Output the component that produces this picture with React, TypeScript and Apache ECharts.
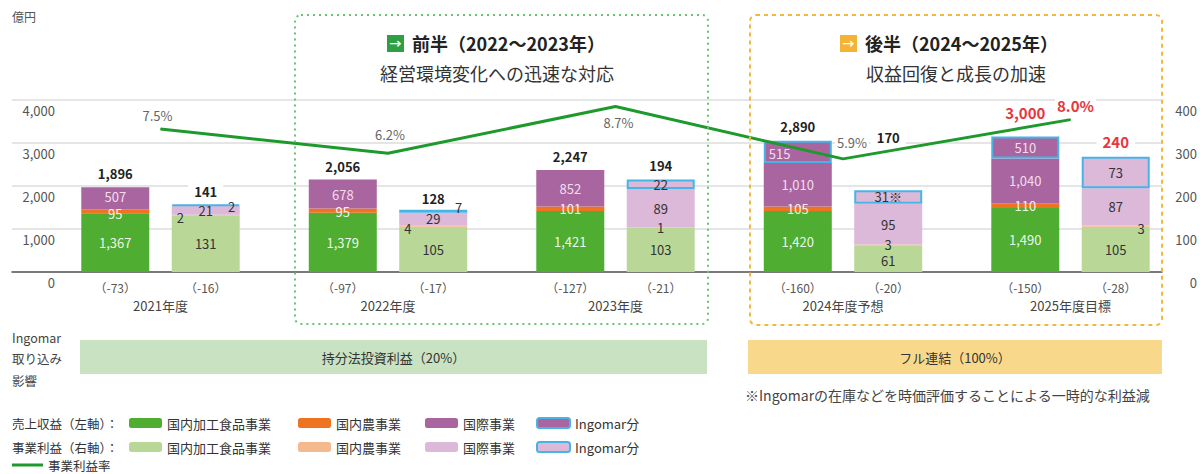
import React, { useEffect, useRef } from "react";
import * as echarts from "echarts";

// ---------- data ----------
const years = ["2021年度", "2022年度", "2023年度", "2024年度予想", "2025年度目標"];
// 売上収益（左軸, 億円）
const revDomesticFood = [1367, 1379, 1421, 1420, 1490];
const revDomesticAgri = [95, 95, 101, 105, 110];
const revInternational = [507, 678, 852, 1010, 1040];
const revIngomar: (number | null)[] = [null, null, null, 515, 510];
const revTotals = [1896, 2056, 2247, 2890, 3000];
const revAdjust = [-73, -97, -127, -160, -150];
// 事業利益（右軸, 億円）
const profDomesticFood = [131, 105, 103, 61, 105];
const profDomesticAgri = [2, 4, 1, 3, 3];
const profInternational = [21, 29, 89, 95, 87];
const profIngomar = [2, 7, 22, 31, 73];
const profTotals = [141, 128, 194, 170, 240];
const profAdjust = [-16, -17, -21, -20, -28];
// 事業利益率（%）
const profitMargin = [7.5, 6.2, 8.7, 5.9, 8.0];
// axes
const leftAxis = { min: 0, max: 4000, interval: 1000 };
const rightAxis = { min: 0, max: 400, interval: 100 };
const marginAxis = { min: -0.15, max: 9.05 };

const FONT = '"Noto Sans CJK JP", "Noto Sans", sans-serif';
const C = {
  food: "#4fad32",
  agri: "#ee7422",
  intl: "#a8659f",
  foodL: "#b9d898",
  agriL: "#f5b98e",
  intlL: "#dcb8d9",
  border: "#47b4e6",
  line: "#1e9a2c",
  red: "#e8363c",
};

const fmt = (v: number) => v.toLocaleString("en-US");

type LabelOverride = Record<string, any> | null;

function seg(
  name: string,
  stack: string,
  yAxisIndex: number,
  color: string,
  values: (number | null)[],
  labelColor: string,
  overrides: LabelOverride[] = [],
  bordered = false,
  suffix: string[] = []
) {
  return {
    type: "bar",
    name,
    stack,
    xAxisIndex: 1,
    yAxisIndex,
    barWidth: 68,
    barGap: "33%",
    itemStyle: bordered
      ? { color, borderColor: C.border, borderWidth: 2 }
      : { color },
    label: {
      show: true,
      position: "inside",
      color: labelColor,
      fontSize: 13,
      fontFamily: FONT,
      formatter: (p: any) => fmt(p.value) + (suffix[p.dataIndex] || ""),
    },
    data: values.map((v, i) =>
      v == null ? "-" : overrides[i] ? { value: v, label: overrides[i] } : v
    ),
  };
}

function totalSeries(stack: string, yAxisIndex: number, totals: number[], per: LabelOverride[]) {
  return {
    type: "bar",
    name: stack + "_total",
    stack,
    xAxisIndex: 1,
    yAxisIndex,
    barWidth: 68,
    barGap: "33%",
    silent: true,
    itemStyle: { color: "rgba(0,0,0,0)" },
    label: {
      show: true,
      position: "top",
      distance: 5,
      color: "#222",
      fontWeight: "bold",
      fontSize: 13,
      fontFamily: FONT,
      backgroundColor: "#fff",
      padding: [2, 6],
      formatter: (p: any) => fmt(totals[p.dataIndex]),
    },
    data: totals.map((_, i) => (per[i] ? { value: 0, label: per[i] } : 0)),
    z: 4,
  };
}

export default function App() {
  const ref = useRef<HTMLDivElement>(null);

  useEffect(() => {
    document.body.style.margin = "0";
    if (!ref.current) return;
    const chart = echarts.init(ref.current, null, { renderer: "svg" });

    const adjText = (v: number) => `（${v}）`;

    const series: any[] = [
      seg("売上収益:国内加工食品事業", "rev", 2, C.food, revDomesticFood, "rgba(255,255,255,0.92)"),
      seg("売上収益:国内農事業", "rev", 2, C.agri, revDomesticAgri, "rgba(255,255,255,0.92)", [
        { offset: [0, 2] },
        { offset: [0, 1] },
        null,
        null,
        null,
      ]),
      seg("売上収益:国際事業", "rev", 2, C.intl, revInternational, "rgba(255,235,250,0.9)", [
        { offset: [0, -2] },
        null,
        null,
        null,
        null,
      ]),
      seg(
        "売上収益:Ingomar分",
        "rev",
        2,
        C.intl,
        revIngomar,
        "rgba(255,235,250,0.9)",
        [null, null, null, { position: "insideLeft", offset: [0, 2] }, null],
        true
      ),
      totalSeries("rev", 2, revTotals, [
        { distance: 5 },
        { distance: 4 },
        { distance: 4.5 },
        { distance: 5.5 },
        { distance: 15, color: C.red, fontSize: 15 },
      ]),
      seg("事業利益:国内加工食品事業", "prof", 3, C.foodL, profDomesticFood, "#333", [
        null,
        null,
        null,
        { offset: [0, 2] },
        null,
      ]),
      seg("事業利益:国内農事業", "prof", 3, C.agriL, profDomesticAgri, "#333", [
        { position: "insideLeft", offset: [0, 2] },
        { position: "insideLeft", offset: [0, 3] },
        null,
        { offset: [0, -1] },
        { position: "insideRight", offset: [0, 2] },
      ]),
      seg("事業利益:国際事業", "prof", 3, C.intlL, profInternational, "#333"),
      seg(
        "事業利益:Ingomar分",
        "prof",
        3,
        C.intlL,
        profIngomar,
        "#333",
        [
          { position: "insideRight", offset: [0, 1] },
          { position: "insideRight", offset: [0, -4] },
          null,
          null,
          null,
        ],
        true,
        ["", "", "", "※", ""]
      ),
      totalSeries("prof", 3, profTotals, [
        { distance: 4.5 },
        { distance: 2.5 },
        { distance: 6 },
        { distance: 44 },
        { distance: 6, color: C.red, fontSize: 15 },
      ]),
      {
        type: "line",
        name: "事業利益:事業利益率",
        xAxisIndex: 1,
        yAxisIndex: 4,
        symbol: "circle",
        symbolSize: 1,
        showSymbol: true,
        lineStyle: { color: C.line, width: 3 },
        itemStyle: { color: C.line },
        z: 6,
        label: {
          show: true,
          position: "top",
          color: "#666",
          fontSize: 13,
          fontFamily: FONT,
          backgroundColor: "#fff",
          padding: [1, 2],
          formatter: (p: any) => p.value.toFixed(1) + "%",
        },
        data: profitMargin.map((v, i) => {
          const per: any[] = [
            { distance: 5, offset: [-3, 0] },
            { distance: 11, offset: [2, 0] },
            { position: "bottom", distance: 8, offset: [3, 0] },
            { distance: 8, offset: [9, 0] },
            { distance: 5, offset: [5, 0], color: C.red, fontWeight: "bold", fontSize: 15 },
          ];
          return { value: v, label: per[i] };
        }),
      },
    ];

    const legendCommon = {
      orient: "horizontal",
      padding: 0,
      itemWidth: 33,
      itemHeight: 10,
      itemGap: 10,
      selectedMode: false,
      textStyle: { fontSize: 13, lineHeight: 14, color: "#333", fontFamily: FONT },
      formatter: (name: string) => name.split(":")[1],
    };
    const colWidths = [121, 79, 63, undefined];
    const segNames = ["国内加工食品事業", "国内農事業", "国際事業", "Ingomar分"];

    const txt = (text: string, x: number, y: number, extra: any = {}) => ({
      type: "text",
      x,
      y,
      silent: true,
      style: {
        text,
        fill: "#444",
        fontSize: 13,
        fontFamily: FONT,
        textVerticalAlign: "middle",
        ...extra,
      },
    });

    const option: any = {
      animation: false,
      textStyle: { fontFamily: FONT },
      grid: [
        { left: 12, right: 38, top: 100, height: 172 },
        { left: 46.75, right: 15.75, top: 100, height: 172 },
      ],
      xAxis: [
        {
          type: "value",
          gridIndex: 0,
          min: 0,
          max: 1,
          axisLine: { show: true, onZero: false, lineStyle: { color: "#555", width: 1.5 } },
          axisTick: { show: false },
          axisLabel: { show: false },
          splitLine: { show: false },
        },
        {
          type: "category",
          gridIndex: 1,
          data: years,
          axisLine: { show: false },
          axisTick: { show: false },
          axisLabel: {
            margin: 6,
            interval: 0,
            formatter: (value: string, index: number) =>
              `{a|${adjText(revAdjust[index])}}{g|}{b|${adjText(profAdjust[index])}}\n{y|${value}}`,
            rich: {
              a: { width: 68, align: "center", fontSize: 12, color: "#555", lineHeight: 18, fontFamily: FONT },
              g: { width: 22.5 },
              b: { width: 68, align: "center", fontSize: 12, color: "#555", lineHeight: 18, fontFamily: FONT },
              y: { fontSize: 13, color: "#444", lineHeight: 18, fontFamily: FONT },
            },
          },
        },
      ],
      yAxis: [
        {
          type: "value",
          gridIndex: 0,
          position: "left",
          ...leftAxis,
          name: "億円",
          nameLocation: "end",
          nameGap: 78,
          nameTextStyle: { align: "left", color: "#555", fontSize: 12, fontFamily: FONT },
          axisLine: { show: false },
          axisTick: { show: false },
          axisLabel: {
            inside: true,
            align: "right",
            margin: 43,
            verticalAlign: "top",
            padding: [4, 0, 0, 0],
            color: "#555",
            fontSize: 13,
            fontFamily: FONT,
            formatter: (v: number) => fmt(v),
          },
          splitLine: { show: true, lineStyle: { color: "#dcdcdc", width: 1.5 } },
        },
        {
          type: "value",
          gridIndex: 0,
          position: "right",
          ...rightAxis,
          axisLine: { show: false },
          axisTick: { show: false },
          axisLabel: {
            align: "right",
            margin: 35,
            verticalAlign: "top",
            padding: [4, 0, 0, 0],
            color: "#555",
            fontSize: 13,
            fontFamily: FONT,
          },
          splitLine: { show: false },
        },
        { type: "value", gridIndex: 1, ...leftAxis, show: false },
        { type: "value", gridIndex: 1, ...rightAxis, show: false },
        { type: "value", gridIndex: 1, ...marginAxis, show: false },
      ],
      legend: [
        {
          ...legendCommon,
          left: 129,
          top: 416,
          data: segNames.map((n, i) => ({
            name: "売上収益:" + n,
            textStyle: colWidths[i] ? { width: colWidths[i] } : {},
          })),
        },
        {
          ...legendCommon,
          left: 129,
          top: 440,
          data: segNames.map((n, i) => ({
            name: "事業利益:" + n,
            textStyle: colWidths[i] ? { width: colWidths[i] } : {},
          })),
        },
        {
          ...legendCommon,
          left: 12,
          top: 458,
          itemWidth: 31,
          itemHeight: 3,
          icon: "rect",
          textStyle: { fontSize: 12.5, lineHeight: 14, color: "#333", fontFamily: FONT },
          data: [{ name: "事業利益:事業利益率" }],
        },
      ],
      graphic: [
        // dotted period boxes
        {
          type: "rect",
          silent: true,
          z: 10,
          shape: { x: 295, y: 15, width: 413, height: 309, r: 6 },
          style: { fill: "none", stroke: "#66c472", lineWidth: 2, lineDash: [2, 4] },
        },
        {
          type: "rect",
          silent: true,
          z: 10,
          shape: { x: 750, y: 15, width: 412, height: 310, r: 6 },
          style: { fill: "none", stroke: "#f5b73a", lineWidth: 2, lineDash: [4, 4] },
        },
        // headings
        { type: "rect", silent: true, shape: { x: 387, y: 35, width: 17, height: 17 }, style: { fill: "#2f9f45" } },
        txt("→", 395.5, 43.5, { fill: "#fff", fontSize: 12, fontWeight: "bold", textAlign: "center" }),
        txt("前半（2022〜2023年）", 412, 43, { fill: "#222", fontSize: 18, fontWeight: "bold" }),
        txt("経営環境変化への迅速な対応", 497, 73, { fill: "#333", fontSize: 18, textAlign: "center" }),
        { type: "rect", silent: true, shape: { x: 840, y: 35, width: 17, height: 17 }, style: { fill: "#f5b335" } },
        txt("→", 848.5, 43.5, { fill: "#fff", fontSize: 12, fontWeight: "bold", textAlign: "center" }),
        txt("後半（2024〜2025年）", 865, 43, { fill: "#222", fontSize: 18, fontWeight: "bold" }),
        txt("収益回復と成長の加速", 956, 73, { fill: "#333", fontSize: 18, textAlign: "center" }),
        // Ingomar rows
        txt("Ingomar", 12, 337, { fontSize: 12.5, lineHeight: 15 }),
        txt("取り込み", 12, 358, { fontSize: 12.5, lineHeight: 15 }),
        txt("影響", 12, 380, { fontSize: 12.5, lineHeight: 15 }),
        { type: "rect", silent: true, shape: { x: 80, y: 340, width: 627, height: 34 }, style: { fill: "#c9e2c1" } },
        txt("持分法投資利益（20%）", 393.5, 357, { fill: "#333", textAlign: "center" }),
        { type: "rect", silent: true, shape: { x: 748, y: 340, width: 414, height: 34 }, style: { fill: "#f8d98b" } },
        txt("フル連結（100%）", 955, 357, { fill: "#333", textAlign: "center" }),
        txt("※Ingomarの在庫などを時価評価することによる一時的な利益減", 745, 395, { fill: "#444", fontSize: 14 }),
        // legend row labels
        txt("売上収益（左軸）：", 12, 423, { fill: "#333", fontSize: 12.5, lineHeight: 14 }),
        txt("事業利益（右軸）：", 12, 447, { fill: "#333", fontSize: 12.5, lineHeight: 14 }),
      ],
      series,
    };

    chart.setOption(option);
    return () => chart.dispose();
  }, []);

  return <div ref={ref} style={{ width: 1200, height: 474 }} />;
}
